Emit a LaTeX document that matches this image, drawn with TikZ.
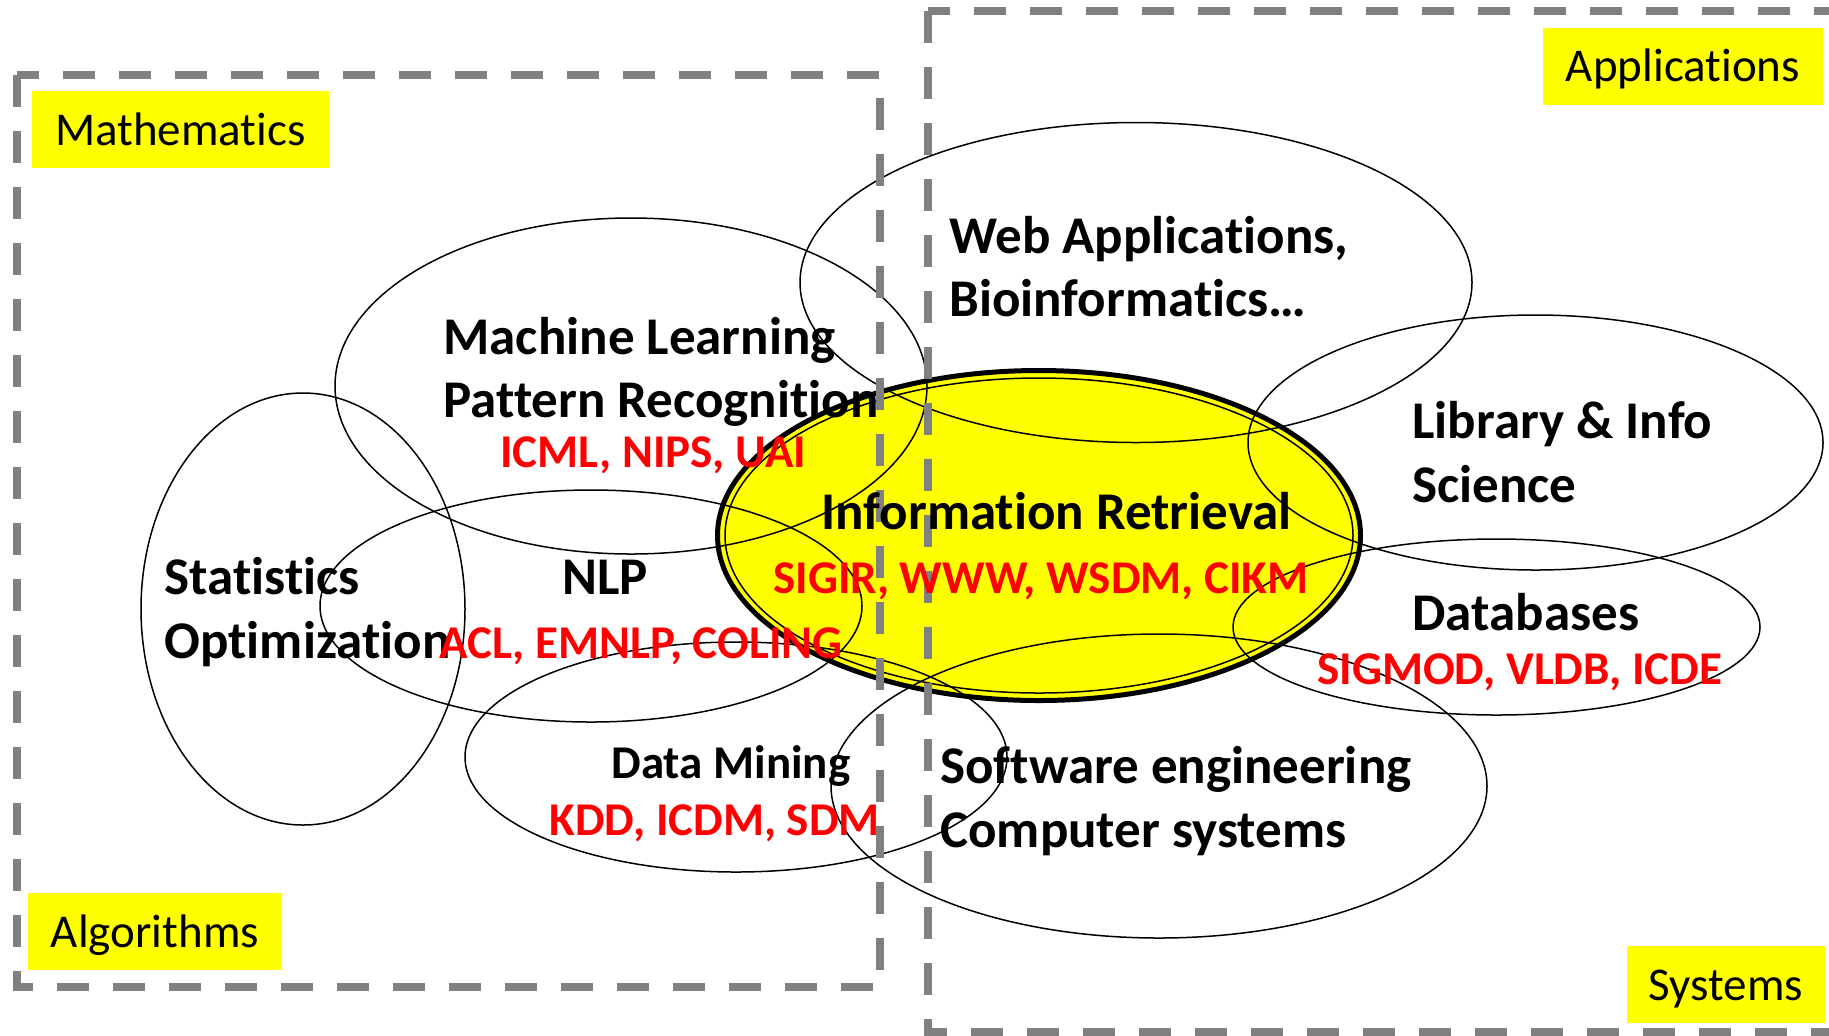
\documentclass[tikz,border=0pt]{standalone}
\usepackage{fontspec}
\setmainfont{Carlito}[Ligatures=NoCommon]
\definecolor{framegray}{HTML}{808080}
\definecolor{tagyellow}{HTML}{FFFF00}
\definecolor{venuered}{HTML}{FF0000}
\tikzset{
  bubble/.style={draw=black, line width=0.75pt},
  frame/.style={draw=framegray, line width=4pt, dash pattern=on 16pt off 12pt},
  tag/.style={fill=tagyellow, inner sep=0pt, text height=27pt, text depth=11.5pt,
              minimum height=38.5pt, font=\fontsize{23.5}{28}\selectfont},
  topic/.style={anchor=base west, inner sep=0pt, font=\bfseries\fontsize{26.5}{30}\selectfont},
  smalltopic/.style={anchor=base west, inner sep=0pt, font=\bfseries\fontsize{23.5}{28}\selectfont},
  venue/.style={anchor=base west, inner sep=0pt, text=venuered, font=\bfseries\fontsize{23.5}{28}\selectfont},
}
\begin{document}
\begin{tikzpicture}[x=0.5pt,y=-0.5pt]
\useasboundingbox (0,0) rectangle (1829,1035);
% Information Retrieval (highlighted)
\fill[tagyellow] (1039,535.5) ellipse [x radius=322, y radius=166];
\draw[line width=2.5pt] (1039,535.5) ellipse [x radius=321.5, y radius=165];
\draw[line width=0.75pt] (1039,535.5) ellipse [x radius=314, y radius=157.5];
% other fields
\draw[bubble] (631,386) ellipse [x radius=296, y radius=168];
\draw[bubble] (303,609) ellipse [x radius=162, y radius=216];
\draw[bubble] (591,606) ellipse [x radius=271, y radius=116];
\draw[bubble] (736,757) ellipse [x radius=271, y radius=115];
\draw[bubble] (1136,282.5) ellipse [x radius=336, y radius=160];
\draw[bubble] (1535.5,442.5) ellipse [x radius=287.5, y radius=127.5];
\draw[bubble] (1496.5,627) ellipse [x radius=263.5, y radius=88];
\draw[bubble] (1159,786) ellipse [x radius=328, y radius=152];
% dashed frames
\draw[frame] (17,75) rectangle (880,987);
\draw[frame] (928,11) rectangle (1850,1032);
% corner tags
\node[tag, minimum width=148.5pt] (math) at (180.5,129.5) {Mathematics};
\node[tag, minimum width=140pt] (apps) at (1683,66) {Applications};
\node[tag, minimum width=127pt] (algo) at (155,931.5) {Algorithms};
\node[tag, minimum width=99pt] (sys) at (1726,984.5) {Systems};
% topic labels
\node[topic] (ml1) at (443,354) {Machine Learning};
\node[topic] (ml2) at (443,417) {Pattern Recognition};
\node[venue] (mlv) at (500,467) {ICML, NIPS, UAI};
\node[topic] (st1) at (164,594) {Statistics};
\node[topic] (st2) at (164,658) {Optimization};
\node[topic] (nlp) at (562,594) {NLP};
\node[venue] (nlpv) at (439,658) {ACL, EMNLP, COLING};
\node[topic] (ir) at (821,529) {Information Retrieval};
\node[venue] (irv) at (773,593) {SIGIR, WWW, WSDM, CIKM};
\node[topic] (web1) at (949,253) {Web Applications,};
\node[topic] (web2) at (949,316) {Bioinformatics…};
\node[topic] (lib1) at (1412,438) {Library \& Info};
\node[topic] (lib2) at (1412,502) {Science};
\node[topic] (db) at (1412,630) {Databases};
\node[venue] (dbv) at (1317,684) {SIGMOD, VLDB, ICDE};
\node[smalltopic] (dm) at (611,778) {Data Mining};
\node[venue] (dmv) at (549,835) {KDD, ICDM, SDM};
\node[topic] (sw1) at (940,783) {Software engineering};
\node[topic] (sw2) at (940,847) {Computer systems};
\end{tikzpicture}
\end{document}
